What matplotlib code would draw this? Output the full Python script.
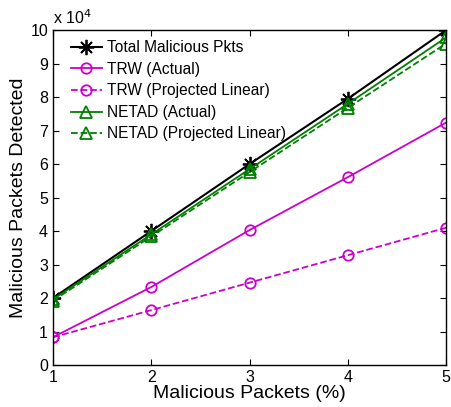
import matplotlib.pyplot as plt

plt.rcParams['font.family'] = ['Liberation Sans', 'DejaVu Sans']

pct = [1, 2, 3, 4, 5]
# values in units of 1e4 packets
total = [2.0, 4.0, 6.0, 7.95, 10.0]
trw_actual = [0.83, 2.33, 4.03, 5.61, 7.24]
trw_proj = [0.83, 1.64, 2.46, 3.28, 4.1]
netad_actual = [1.96, 3.9, 5.85, 7.8, 9.78]
netad_proj = [1.92, 3.84, 5.76, 7.68, 9.6]

magenta = '#cc00cc'
green = '#008000'

fig = plt.figure(figsize=(4.52, 4.07), dpi=100)
ax = fig.add_axes([0.117, 0.103, 0.87, 0.823])

ax.plot(pct, total, '-', marker=(8, 2, 0), color='black', lw=1.5, ms=11, mew=1.3,
        label='Total Malicious Pkts')
ax.plot(pct, trw_actual, '-o', color=magenta, lw=1.3, ms=7.5, mfc='none', mew=1.3,
        label='TRW (Actual)')
ax.plot(pct, trw_proj, '--o', color=magenta, lw=1.3, ms=7.5, mfc='none', mew=1.3,
        label='TRW (Projected Linear)')
ax.plot(pct, netad_actual, '-^', color=green, lw=1.3, ms=8.5, mfc='none', mew=1.3,
        label='NETAD (Actual)')
ax.plot(pct, netad_proj, '--^', color=green, lw=1.3, ms=8.5, mfc='none', mew=1.3,
        label='NETAD (Projected Linear)')

ax.set_xlim(1, 5)
ax.set_ylim(0, 10)
ax.set_xticks(pct)
ax.set_yticks(range(0, 11))
ax.tick_params(direction='in', top=True, right=True, labelsize=11.5, length=4)
for s in ax.spines.values():
    s.set_linewidth(1.0)

ax.set_xlabel('Malicious Packets (%)', fontsize=14, labelpad=0)
ax.set_ylabel('Malicious Packets Detected', fontsize=14, labelpad=2)
ax.text(0.0, 1.01, r'x 10$^4$', transform=ax.transAxes, fontsize=11.5,
        ha='left', va='bottom')

ax.legend(loc='upper left', bbox_to_anchor=(0.03, 0.988), frameon=False,
          fontsize=11.2, handlelength=2.0, handletextpad=0.3,
          labelspacing=0.42, borderaxespad=0.0)

fig.savefig('out.png', dpi=100)
